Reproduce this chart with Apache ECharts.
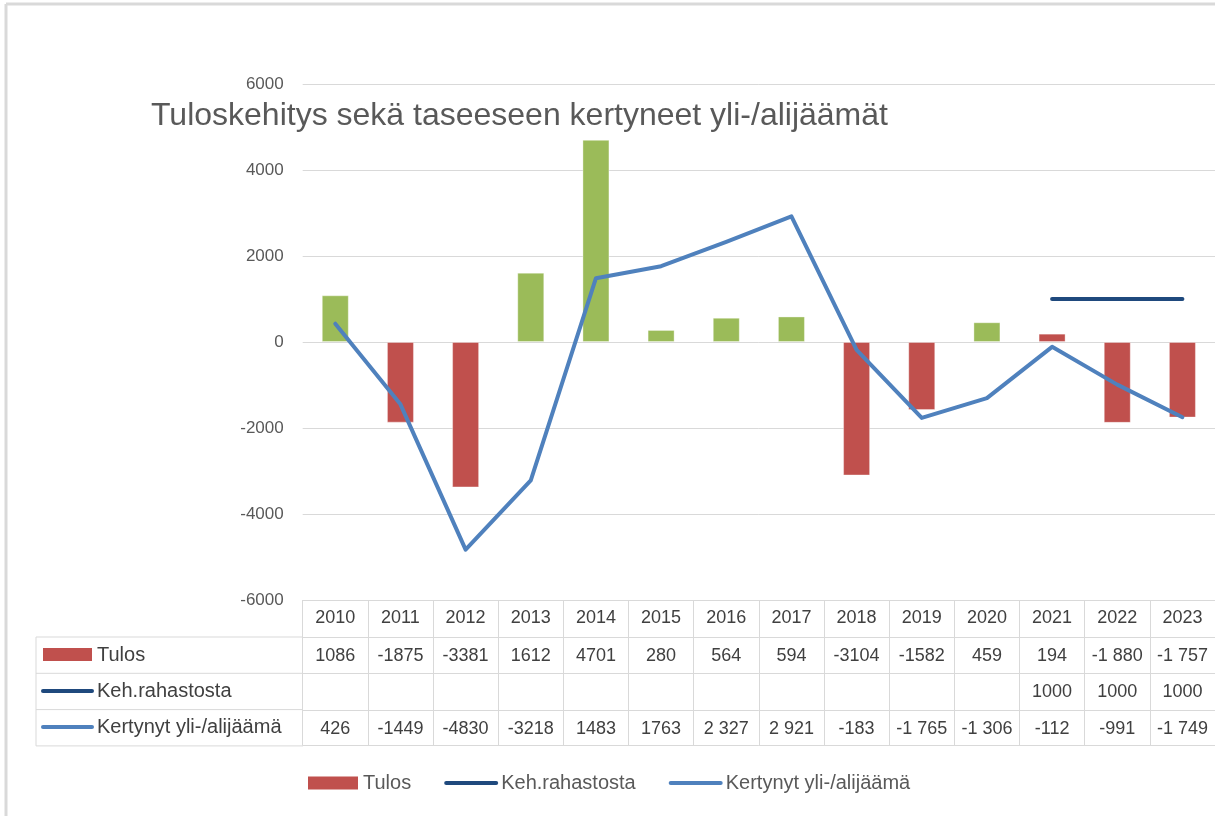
<!DOCTYPE html>
<html>
<head>
<meta charset="utf-8">
<script src="https://cdn.jsdelivr.net/npm/echarts@6/dist/echarts.min.js"></script>
<style>
  html, body { margin: 0; padding: 0; background: #fff; }
  #chart { width: 1215px; height: 816px; }
</style>
</head>
<body>
<div id="chart"></div>
<script>
// vuodet
var years = ['2010', '2011', '2012', '2013', '2014', '2015', '2016', '2017', '2018', '2019', '2020', '2021', '2022', '2023'];
// Tulos
var tulos = [1086, -1875, -3381, 1612, 4701, 280, 564, 594, -3104, -1582, 459, 194, -1880, -1757];
// Keh.rahastosta
var rahasto = [null, null, null, null, null, null, null, null, null, null, null, 1000, 1000, 1000];
// Kertynyt yli-/alijäämä
var kertynyt = [426, -1449, -4830, -3218, 1483, 1763, 2327, 2921, -183, -1765, -1306, -112, -991, -1749];
// taulukon tekstit
var tulosLabels = ['1086', '-1875', '-3381', '1612', '4701', '280', '564', '594', '-3104', '-1582', '459', '194', '-1 880', '-1 757'];
var rahastoLabels = ['', '', '', '', '', '', '', '', '', '', '', '1000', '1000', '1000'];
var kertynytLabels = ['426', '-1449', '-4830', '-3218', '1483', '1763', '2 327', '2 921', '-183', '-1 765', '-1 306', '-112', '-991', '-1 749'];
var seriesNames = ['Tulos', 'Keh.rahastosta', 'Kertynyt yli-/alijäämä'];
var yTicks = [-6000, 6000, 2000];

var GRID = '#d9d9d9';
var TXT = '#404040';
var FONT = 'Liberation Sans';
var RED = '#C0504D', GREEN = '#9BBB59', NAVY = '#1F497D', BLUE = '#4F81BD';

var chart = echarts.init(document.getElementById('chart'));

// taulukon rivi = oma x-akseli
function tableAxis(offset, labels) {
    return {
        type: 'category',
        data: years,
        position: 'bottom',
        offset: offset,
        axisLine: { show: true, onZero: false, lineStyle: { color: GRID, width: 1 } },
        axisTick: { show: false },
        axisLabel: {
            show: !!labels,
            margin: 10,
            color: TXT,
            fontFamily: FONT,
            fontSize: 18,
            interval: 0,
            formatter: function (v, i) { return labels ? labels[i] : ''; }
        }
    };
}

var rowTop = 637, rowH = 36.3;
var graphics = [
    // kehys
    { type: 'line', shape: { x1: 6, y1: 4, x2: 1215, y2: 4 }, style: { stroke: GRID, lineWidth: 3 } },
    { type: 'line', shape: { x1: 6, y1: 4, x2: 6, y2: 816 }, style: { stroke: GRID, lineWidth: 3 } },
    // vasen sarake
    { type: 'line', shape: { x1: 36, y1: rowTop, x2: 36, y2: rowTop + rowH * 3 }, style: { stroke: GRID, lineWidth: 1 } }
];
for (var r = 0; r <= 3; r++) {
    graphics.push({ type: 'line', shape: { x1: 36, y1: rowTop + rowH * r, x2: 303, y2: rowTop + rowH * r }, style: { stroke: GRID, lineWidth: 1 } });
}
// avaimet
graphics.push({ type: 'rect', shape: { x: 43, y: 648, width: 49, height: 13 }, style: { fill: RED } });
graphics.push({ type: 'line', shape: { x1: 43, y1: 691, x2: 92, y2: 691 }, style: { stroke: NAVY, lineWidth: 4, lineCap: 'round' } });
graphics.push({ type: 'line', shape: { x1: 43, y1: 727, x2: 92, y2: 727 }, style: { stroke: BLUE, lineWidth: 4, lineCap: 'round' } });
for (var k = 0; k < 3; k++) {
    graphics.push({
        type: 'text', x: 97, y: rowTop + rowH * k + rowH / 2,
        style: { text: seriesNames[k], fill: TXT, font: '20px ' + FONT, verticalAlign: 'middle' }
    });
}

var option = {
    backgroundColor: '#fff',
    animation: false,
    title: {
        text: 'Tuloskehitys sekä taseeseen kertyneet yli-/alijäämät',
        left: 146,
        top: 95,
        textStyle: { color: '#595959', fontFamily: FONT, fontSize: 32, fontWeight: 'normal' }
    },
    legend: {
        left: 303,
        top: 768,
        itemGap: 33,
        itemWidth: 50,
        itemHeight: 13,
        textStyle: { color: '#595959', fontFamily: FONT, fontSize: 20 },
        data: [
            { name: seriesNames[0], icon: 'rect', itemStyle: { color: RED, borderWidth: 0 } },
            { name: seriesNames[1], itemStyle: { opacity: 0 }, lineStyle: { color: NAVY, width: 4 } },
            { name: seriesNames[2], itemStyle: { opacity: 0 }, lineStyle: { color: BLUE, width: 4 } }
        ]
    },
    grid: { left: 302.7, right: -9, top: 84, bottom: 216 },
    xAxis: [
        {
            type: 'category',
            data: years,
            position: 'bottom',
            axisLine: { show: true, onZero: false, lineStyle: { color: GRID } },
            axisTick: { show: true, alignWithLabel: false, length: 145, lineStyle: { color: GRID } },
            axisLabel: { margin: 9, color: TXT, fontFamily: FONT, fontSize: 18, interval: 0 }
        },
        tableAxis(37, tulosLabels),
        tableAxis(73, rahastoLabels),
        tableAxis(110, kertynytLabels),
        tableAxis(145, null)
    ],
    yAxis: {
        type: 'value',
        min: yTicks[0],
        max: yTicks[1],
        interval: yTicks[2],
        axisLine: { show: false },
        axisTick: { show: false },
        axisLabel: {
            margin: 19, color: '#595959', fontFamily: FONT, fontSize: 17,
            formatter: function (v) { return String(v); }
        },
        splitLine: { lineStyle: { color: GRID, width: 1 } }
    },
    series: [
        {
            name: seriesNames[0],
            type: 'bar',
            data: tulos,
            barWidth: 27,
            color: RED,
            itemStyle: {
                color: function (p) {
                    return (p.value > 0 && p.name !== '2021') ? GREEN : RED;
                },
                borderColor: 'rgba(255,255,255,0.35)',
                borderWidth: 1
            }
        },
        {
            name: seriesNames[1],
            type: 'line',
            data: rahasto,
            symbol: 'none',
            color: NAVY,
            lineStyle: { color: NAVY, width: 4, cap: 'round' }
        },
        {
            name: seriesNames[2],
            type: 'line',
            data: kertynyt,
            symbol: 'none',
            color: BLUE,
            lineStyle: { color: BLUE, width: 4, cap: 'round', join: 'round' }
        }
    ],
    graphic: graphics
};

chart.setOption(option);
</script>
</body>
</html>
